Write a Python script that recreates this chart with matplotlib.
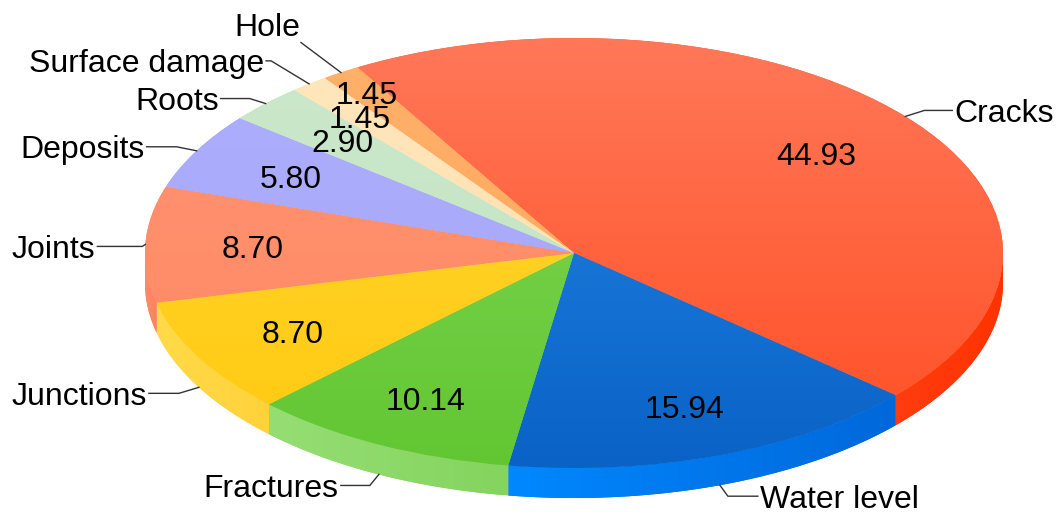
import numpy as np
import matplotlib.pyplot as plt
from matplotlib.colors import LinearSegmentedColormap
from matplotlib.patches import Polygon

# data
labels = ["Cracks", "Water level", "Fractures", "Junctions", "Joints",
          "Deposits", "Roots", "Surface damage", "Hole"]
values = [44.93, 15.94, 10.14, 8.70, 8.70, 5.80, 2.90, 1.45, 1.45]
# top face gradient: light (top) -> darker (bottom)
top_light = ["#FF7858", "#2488E6", "#84D858", "#FFD838", "#FF9474",
             "#AEAEFF", "#CBE8CB", "#FFE6BC", "#FFB06A"]
top_dark = ["#FF4E24", "#0A62C6", "#62C632", "#FFC90E", "#FF8862",
            "#A6A6F6", "#C3E2C3", "#FFE0B0", "#FFA85C"]
# side walls: left -> right
side_left = ["#FF3C10", "#0088FF", "#96DE74", "#FFDA48", "#FF8C68",
             "#A0A0F2", "#BCDDBC", "#FFDDA8", "#FFA050"]
side_right = ["#FF3300", "#0068DA", "#84D45E", "#FFD23A", "#FF8060",
              "#9898EA", "#B4D6B4", "#FFD89E", "#FF9A48"]

plt.rcParams["font.family"] = ["Liberation Sans", "DejaVu Sans"]

# layout in pixels
W, H = 1056, 514
cx, cy, rx, ry = 574, 253, 429, 215
depth = 30 / ry
start = 120.3
label_r = [0.73, 0.76, 0.76, 0.75, 0.75, 0.75, 0.75, 0.81, 0.89]
elbow = [(19, -6), (8, 11), (-9, 11), (-20, 6), (-3, 2), (-20, -4),
         (-16, -5), (-38, -23), (-40, -30)]
hlen = [28, 30, -29, -30, -45, -30, -29, -5, 0]
fs = 23

fig = plt.figure(figsize=(W / 100, H / 100), dpi=100)
ax = fig.add_axes([0, 0, 1, 1])

wedges, _ = ax.pie(values, startangle=start, counterclock=False, radius=1,
                   center=(0, 0), colors=top_dark,
                   wedgeprops=dict(linewidth=0))

frac = np.array(values) / np.sum(values)
a0 = start - 360 * np.concatenate([[0], np.cumsum(frac)[:-1]])
a1 = a0 - 360 * frac
mid = (a0 + a1) / 2

# vertical gradient on the top faces
grad_v = np.linspace(0, 1, 256)[:, None]
for i, w in enumerate(wedges):
    cmap = LinearSegmentedColormap.from_list("g", [top_light[i], top_dark[i]])
    im = ax.imshow(grad_v, extent=(-1, 1, -1, 1), cmap=cmap, aspect="auto",
                   zorder=w.get_zorder() + 0.1, interpolation="bilinear")
    im.set_clip_path(w)

# side walls (front half only)
grad_h = np.linspace(0, 1, 256)[None, :]
for i in range(len(values)):
    lo, hi = max(a1[i], -180), min(a0[i], 0)
    if hi <= lo:
        continue
    t = np.radians(np.linspace(lo, hi, 100))
    xs, ys = np.cos(t), np.sin(t)
    pts = np.vstack([np.column_stack([xs, ys]),
                     np.column_stack([xs, ys - depth])[::-1]])
    poly = Polygon(pts, closed=True, facecolor=side_right[i], lw=0, zorder=0.5)
    ax.add_patch(poly)
    cmap = LinearSegmentedColormap.from_list("s", [side_left[i], side_right[i]])
    im = ax.imshow(grad_h, extent=(xs.min(), xs.max(), ys.min() - depth, ys.max()),
                   cmap=cmap, aspect="auto", zorder=0.6, interpolation="bilinear")
    im.set_clip_path(poly)

# value labels
for i, v in enumerate(values):
    m = np.radians(mid[i])
    ax.text(label_r[i] * np.cos(m), label_r[i] * np.sin(m), f"{v:.2f}",
            ha="center", va="center_baseline", fontsize=fs, zorder=5)

# category labels with leader lines
for i, name in enumerate(labels):
    m = np.radians(mid[i])
    x0, y0 = np.cos(m), np.sin(m)
    if y0 < 0:
        y0 -= depth
    ex, ey = x0 + elbow[i][0] / rx, y0 - elbow[i][1] / ry
    fx = ex + hlen[i] / rx
    ax.plot([x0, ex, fx], [y0, ey, ey], color="#333333", lw=1, zorder=5)
    if hlen[i] == 0:
        ax.text(ex - 1 / rx, ey + 7 / ry, name, ha="right", va="baseline",
                fontsize=fs, zorder=5)
    elif hlen[i] > 0:
        ax.text(fx + 2 / rx, ey, name, ha="left", va="center_baseline",
                fontsize=fs, zorder=5)
    else:
        ax.text(fx - 2 / rx, ey, name, ha="right", va="center_baseline",
                fontsize=fs, zorder=5)

ax.set_xlim(-cx / rx, (W - cx) / rx)
ax.set_ylim((cy - H) / ry, cy / ry)
ax.set_aspect("auto")
ax.axis("off")

fig.savefig("out.png", dpi=100)
